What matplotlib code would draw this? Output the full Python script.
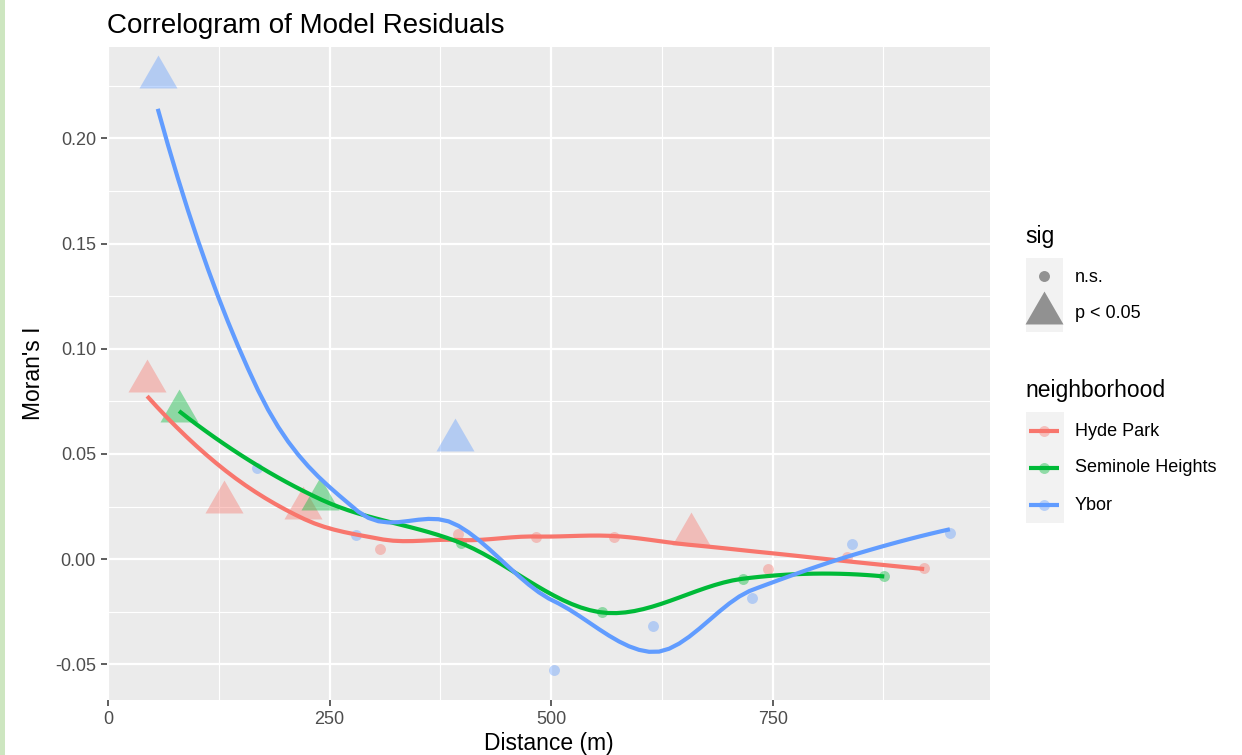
import numpy as np
import matplotlib
matplotlib.use('Agg')
import matplotlib.pyplot as plt
from matplotlib.path import Path
from matplotlib.patches import Rectangle
from matplotlib.ticker import MultipleLocator

plt.rcParams['font.family'] = ['Liberation Sans', 'DejaVu Sans']

# distance bins (m) and Moran's I per neighborhood
hyde_dist = [44, 131, 220, 307, 395, 483, 571, 658, 745, 834, 921]
hyde_moran = [0.0848, 0.0273, 0.0243, 0.0050, 0.0121, 0.0104, 0.0104, 0.0121, -0.0045, 0.0010, -0.0044]
hyde_sig = [True, True, True, False, False, False, False, True, False, False, False]

seminole_dist = [80, 239, 398, 557, 716, 876]
seminole_moran = [0.0704, 0.0286, 0.0077, -0.0253, -0.0093, -0.0082]
seminole_sig = [True, True, False, False, False, False]

ybor_dist = [56, 168, 280, 392, 503, 615, 727, 839, 950]
ybor_moran = [0.2293, 0.0433, 0.0116, 0.0567, -0.0528, -0.0319, -0.0186, 0.0070, 0.0125]
ybor_sig = [True, False, False, True, False, False, False, False, False]

groups = ['Hyde Park', 'Seminole Heights', 'Ybor']
colors = ['#F8766D', '#00BA38', '#619CFF']
sig_labels = ['n.s.', 'p < 0.05']

# equilateral triangle centred on its centroid (like R pch 17)
TRI = Path([(0, 1), (-0.866, -0.5), (0.866, -0.5), (0, 1)], closed=True)
S_DOT = 62
S_TRI = 1000
ALPHA = 0.4


def local_fit(x, y, x0, q):
    # tricube-weighted local quadratic: value and slope at x0
    d = np.abs(x - x0)
    h = np.sort(d)[q - 1] * 1.0001 + 1e-9
    w = np.clip(1 - (d / h) ** 3, 0, None) ** 3
    X = np.column_stack([np.ones(len(x)), x - x0, (x - x0) ** 2])
    sc = np.sqrt((X ** 2 * w[:, None]).sum(0))
    sw = np.sqrt(w)
    beta = np.linalg.lstsq((X / sc) * sw[:, None], y * sw, rcond=None)[0] / sc
    return beta[0], beta[1]


def loess(x, y, xs, span=0.75, cell=0.2):
    # loess with kd-tree vertices + cubic Hermite interpolation (R default surface)
    x = np.asarray(x, float)
    y = np.asarray(y, float)
    n = len(x)
    q = int(np.floor(n * span + 1e-5))
    fc = int(np.floor(n * span * cell))
    pad = 0.005 * (x.max() - x.min())
    lo, hi = x.min() - pad, x.max() + pad
    verts = {lo, hi}

    def split(pts, a, b):
        k = len(pts)
        if k <= fc or k == 0:
            return
        v = pts[(k + 1) // 2 - 1]
        if v == a or v == b:
            return
        verts.add(v)
        split([p for p in pts if p <= v], a, v)
        split([p for p in pts if p > v], v, b)

    split(sorted(x), lo, hi)
    vx = np.array(sorted(verts))
    vals = np.array([local_fit(x, y, v, q) for v in vx])
    out = []
    for x0 in xs:
        i = min(np.searchsorted(vx, x0, side='right') - 1, len(vx) - 2)
        x1, x2 = vx[i], vx[i + 1]
        hg = x2 - x1
        t = (x0 - x1) / hg
        out.append((2 * t**3 - 3 * t**2 + 1) * vals[i, 0]
                   + (t**3 - 2 * t**2 + t) * hg * vals[i, 1]
                   + (-2 * t**3 + 3 * t**2) * vals[i + 1, 0]
                   + (t**3 - t**2) * hg * vals[i + 1, 1])
    return np.array(out)


fig = plt.figure(figsize=(12.42, 7.55), dpi=100)
ax = fig.add_axes([107 / 1242, 55 / 755, 883 / 1242, 653 / 755])
ax.set_facecolor('#EBEBEB')

data = [(hyde_dist, hyde_moran, hyde_sig),
        (seminole_dist, seminole_moran, seminole_sig),
        (ybor_dist, ybor_moran, ybor_sig)]

for (d, m, s), col in zip(data, colors):
    d = np.array(d)
    m = np.array(m)
    s = np.array(s)
    ax.scatter(d[~s], m[~s], s=S_DOT, marker='o', color=col, alpha=ALPHA, linewidths=0, zorder=2)
    ax.scatter(d[s], m[s], s=S_TRI, marker=TRI, color=col, alpha=ALPHA, linewidths=0, zorder=2)

for (d, m, s), col in zip(data, colors):
    xs = np.linspace(min(d), max(d), 80)
    ax.plot(xs, loess(d, m, xs), color=col, lw=3.0, zorder=3, solid_capstyle='butt')

ax.margins(x=0.05, y=0.05)
ax.xaxis.set_major_locator(MultipleLocator(250))
ax.xaxis.set_minor_locator(MultipleLocator(125))
ax.yaxis.set_major_locator(MultipleLocator(0.05))
ax.yaxis.set_minor_locator(MultipleLocator(0.025))
ax.yaxis.set_major_formatter(plt.FuncFormatter(lambda v, p: f'{v:.2f}'))
ax.grid(which='major', color='white', lw=1.6)
ax.grid(which='minor', color='white', lw=0.8)
ax.set_axisbelow(True)
for sp in ax.spines.values():
    sp.set_visible(False)
ax.tick_params(which='major', length=4, width=1.1, color='#333333', labelsize=13,
               labelcolor='#4D4D4D', pad=4)
ax.tick_params(which='minor', length=0)

ax.set_xlabel('Distance (m)', fontsize=16.5, labelpad=3)
ax.set_ylabel("Moran's I", fontsize=16.5, labelpad=7)
ax.set_title('Correlogram of Model Residuals', loc='left', fontsize=20, pad=10)

# legends drawn in pixel space, ggplot style
lg = fig.add_axes([0, 0, 1, 1], zorder=5)
lg.set_xlim(0, 1242)
lg.set_ylim(755, 0)
lg.axis('off')

lg.text(1025, 237, 'sig', fontsize=16.5, va='center', ha='left')
lg.add_patch(Rectangle((1026, 258), 37, 74, color='#F2F2F2', lw=0))
lg.scatter([1044], [276], s=S_DOT, marker='o', color='black', alpha=ALPHA, linewidths=0)
lg.scatter([1044], [313], s=S_TRI, marker=TRI, color='black', alpha=ALPHA, linewidths=0)
for yy, lab in zip([277, 314], sig_labels):
    lg.text(1075, yy, lab, fontsize=13, va='center', ha='left')

lg.text(1025, 391, 'neighborhood', fontsize=16.5, va='center', ha='left')
lg.add_patch(Rectangle((1026, 412), 38, 111, color='#F2F2F2', lw=0))
for i, (name, col) in enumerate(zip(groups, colors)):
    yy = 431 + i * 37
    lg.plot([1029, 1059], [yy, yy], color=col, lw=3.0, solid_capstyle='butt')
    lg.scatter([1044], [yy], s=S_DOT, marker='o', color=col, alpha=ALPHA, linewidths=0, zorder=3)
    lg.text(1075, yy, name, fontsize=13, va='center', ha='left')

# thin strip on the left edge of the screenshot
fig.patches.append(Rectangle((0, 0), 5 / 1242, 1, transform=fig.transFigure,
                             color='#CDE6C0', lw=0))

fig.savefig('out.png', dpi=100)
